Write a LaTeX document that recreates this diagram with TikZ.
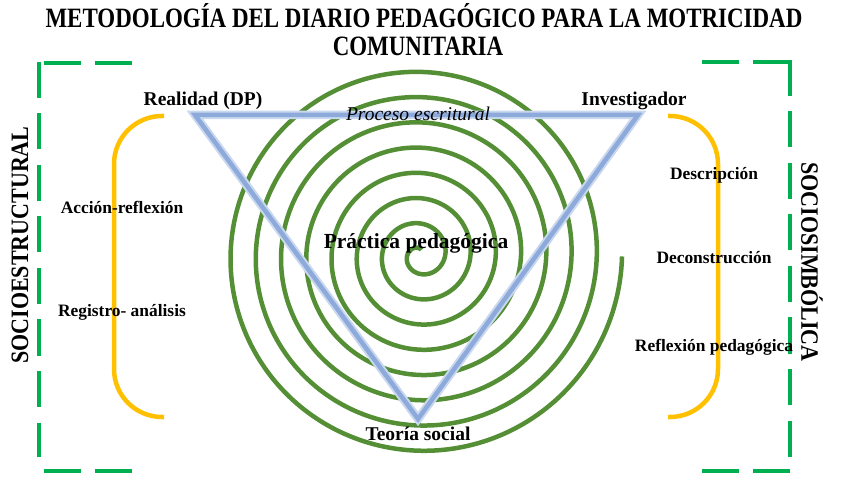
\documentclass[tikz,border=0pt]{standalone}
\usepackage{fontspec}
\setmainfont{Liberation Serif}
\newfontfamily\titlefont[FakeStretch=0.82]{Liberation Serif}
\newfontfamily\sidefont[FakeStretch=0.88]{Liberation Serif}
\definecolor{dashgreen}{HTML}{00B050}
\definecolor{spiralgreen}{HTML}{548F35}
\definecolor{brackyellow}{HTML}{FFC000}
\definecolor{triblue}{HTML}{8EAADB}
\definecolor{triglow}{HTML}{C9D8EF}
\tikzset{
  dashside/.style={draw=dashgreen, line width=4pt},
  yellowbrace/.style={draw=brackyellow, line width=4.5pt, rounded corners=48pt},
  spiralline/.style={draw=spiralgreen, line width=4.5pt},
  lbl/.style={font=\bfseries\fontsize{17.4}{20}\selectfont, inner sep=0pt},
  cornerlbl/.style={font=\bfseries\fontsize{19.5}{22}\selectfont, inner sep=0pt},
  sidelbl/.style={font=\sidefont\bfseries\fontsize{25}{28}\selectfont, inner sep=0pt},
  titlelbl/.style={font=\titlefont\bfseries\fontsize{28}{30}\selectfont, inner sep=0pt},
}
\begin{document}
\begin{tikzpicture}[x=1pt,y=-1pt]
\path[use as bounding box, fill=white] (0,0) rectangle (844,497);

% title
\node[titlelbl] (title1) at (424,16) {METODOLOGÍA DEL DIARIO PEDAGÓGICO PARA LA MOTRICIDAD};
\node[titlelbl] (title2) at (418,46) {COMUNITARIA};

% green dashed frames
\draw[dashside, dash pattern=on 37pt off 14pt] (44,63) -- (132,63);
\draw[dashside, dash pattern=on 36pt off 15.5pt] (39,62) -- (39,457);
\draw[dashside, dash pattern=on 37pt off 14pt] (44,471) -- (132,471);
\draw[dashside, dash pattern=on 37pt off 14pt] (702,62) -- (790,62);
\draw[dashside, dash pattern=on 36pt off 15.5pt] (790,60) -- (790,457);
\draw[dashside, dash pattern=on 37pt off 14pt] (702,471) -- (790,471);

% yellow brackets
\draw[yellowbrace] (164,116) -- (114,116) -- (114,417) -- (164,417);
\draw[yellowbrace] (668,116) -- (718,116) -- (718,417) -- (668,417);

% spiral
\draw[spiralline] plot[domain=1.3:50.265, samples=1200, smooth]
  ({420+4.02*\x*cos(\x r)},{255-4.02*\x*sin(\x r)});

% triangle
\coordinate (tl) at (195,115);
\coordinate (tr) at (638,115);
\coordinate (bt) at (418,419);
\draw[triglow, line width=8.5pt, line join=miter] (tl) -- (tr) -- (bt) -- cycle;
\draw[triblue, line width=4.5pt, line join=miter] (tl) -- (tr) -- (bt) -- cycle;

% labels
\node[cornerlbl] (realidad) at (203,101) {Realidad (DP)};
\node[cornerlbl] (invest) at (634,101) {Investigador};
\node[font=\itshape\fontsize{19.5}{22}\selectfont, inner sep=0pt] (proceso) at (418,114) {Proceso escritural};
\node[font=\bfseries\fontsize{21.5}{24}\selectfont, inner sep=0pt] (practica) at (416,243) {Práctica pedagógica};
\node[cornerlbl] (teoria) at (418,434) {Teoría social};

\node[lbl] (accion) at (122,207) {Acción-reflexión};
\node[lbl] (registro) at (122,312) {Registro- análisis};
\node[lbl] (descr) at (714,175) {Descripción};
\node[lbl] (decons) at (714,258) {Deconstrucción};
\node[lbl] (reflex) at (714,347) {Reflexión pedagógica};

\node[sidelbl, rotate=90] (socioest) at (20,245) {SOCIOESTRUCTURAL};
\node[sidelbl, rotate=-90] (sociosim) at (812,262) {SOCIOSIMBÓLICA};
\end{tikzpicture}
\end{document}
